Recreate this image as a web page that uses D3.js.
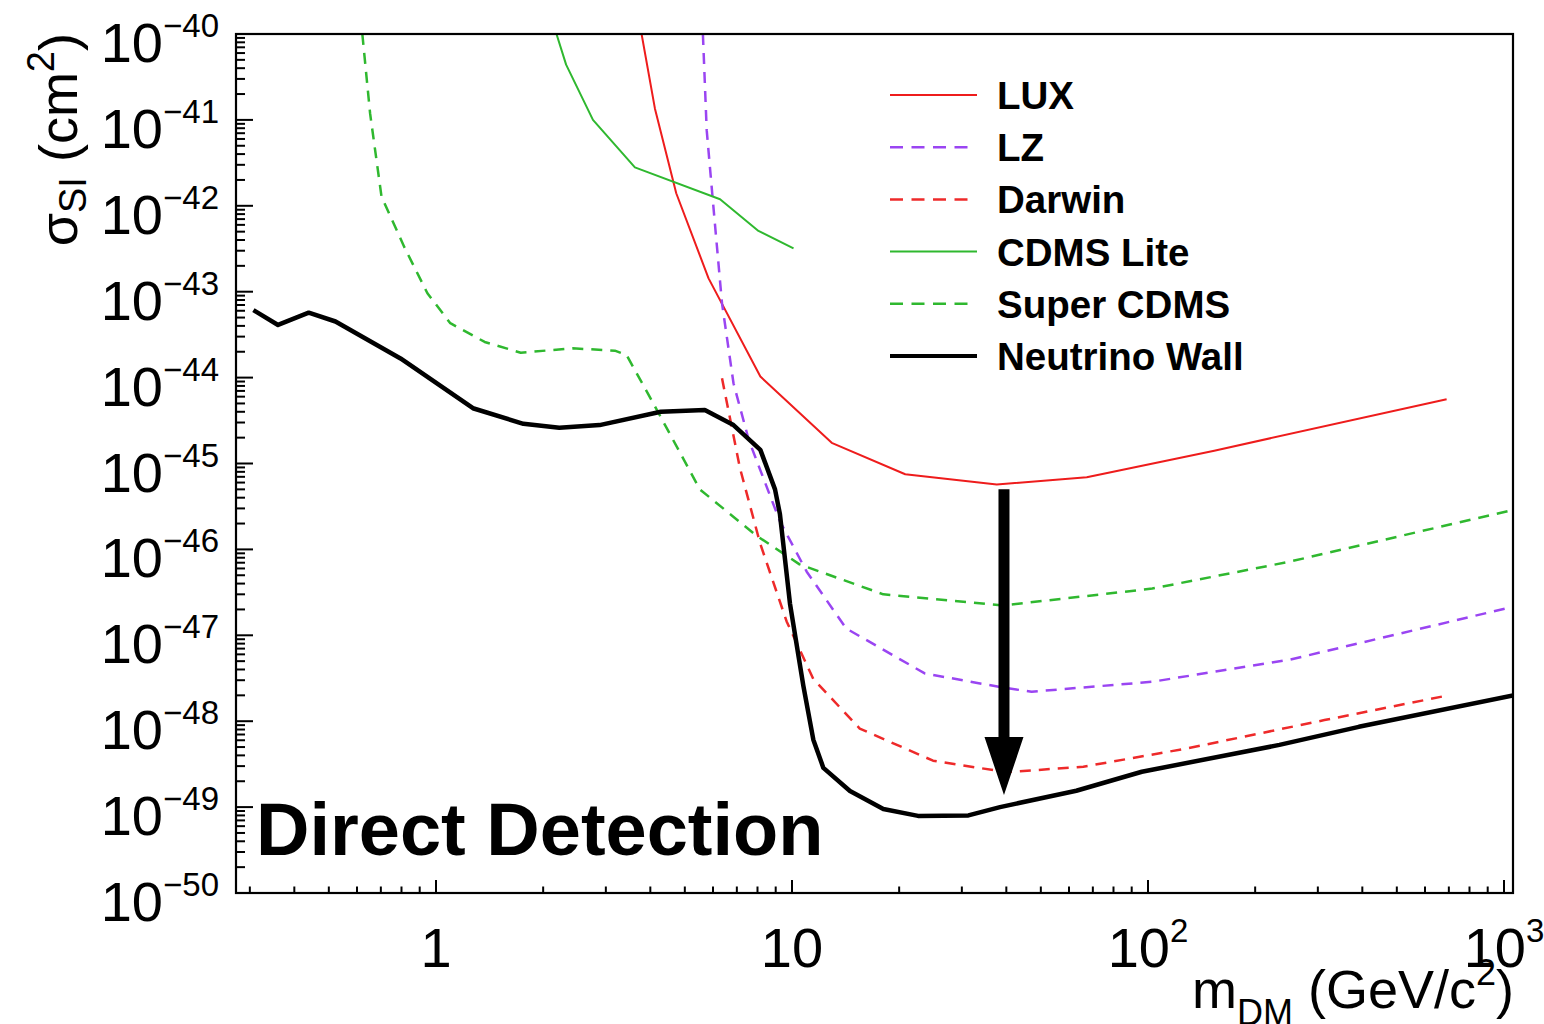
<!DOCTYPE html>
<html>
<head>
<meta charset="utf-8">
<script src="https://cdn.jsdelivr.net/npm/d3@7"></script>
<style>
  html, body { margin: 0; padding: 0; background: #fff; }
  svg { display: block; font-family: "Liberation Sans", Arial, Helvetica, sans-serif; }
</style>
</head>
<body>
<svg id="chart" width="1544" height="1024"></svg>
<script>
// ---------------- data ----------------
const luxMass   = [3.78, 4.12, 4.73, 5.83, 8.15, 12.93, 20.8, 37.6, 67.3, 153.5, 690];
const luxSigma  = [1.0e-40, 1.36e-41, 1.4e-42, 1.43e-43, 1.03e-44, 1.74e-45, 7.5e-46, 5.7e-46, 6.9e-46, 1.41e-45, 5.6e-45];

const lzMass    = [5.62, 5.76, 5.98, 6.36, 6.85, 7.56, 9.25, 11.0, 14.2, 23.6, 38.4, 47.1, 102.8, 250, 1060];
const lzSigma   = [1.0e-40, 7.6e-42, 1.28e-42, 7.3e-44, 8.6e-45, 1.88e-45, 2.12e-46, 5.5e-47, 1.2e-47, 3.6e-48, 2.5e-48, 2.2e-48, 2.88e-48, 5.2e-48, 2.15e-47];

const darwinMass  = [6.36, 7.14, 8.13, 9.66, 11.48, 15.5, 24.9, 40.0, 65.8, 128, 313, 698];
const darwinSigma = [9.8e-45, 8.9e-46, 1.19e-46, 1.45e-47, 3.1e-48, 8.2e-49, 3.47e-49, 2.55e-49, 2.95e-49, 4.8e-49, 1.03e-48, 2.0e-48];

const cdmsLiteMass  = [2.18, 2.32, 2.76, 3.62, 6.28, 8.05, 10.1];
const cdmsLiteSigma = [1.0e-40, 4.4e-41, 1.0e-41, 2.8e-42, 1.19e-42, 5.1e-43, 3.2e-43];

const superCdmsMass  = [0.621, 0.653, 0.703, 0.815, 0.946, 1.097, 1.37, 1.73, 2.42, 3.18, 3.43, 4.08, 5.51, 7.96, 10.5, 18.05, 39.2, 102.8, 250, 1060];
const superCdmsSigma = [1.0e-40, 1.19e-41, 1.28e-42, 3.3e-43, 9.6e-44, 4.3e-44, 2.6e-44, 1.95e-44, 2.19e-44, 2.06e-44, 1.83e-44, 5.0e-45, 5.0e-46, 1.44e-46, 6.7e-47, 3.0e-47, 2.23e-47, 3.5e-47, 7.2e-47, 2.88e-46];

const nuMass  = [0.307, 0.360, 0.439, 0.522, 0.795, 1.27, 1.76, 2.22, 2.88, 4.28, 5.69, 6.85, 8.15, 8.96, 9.25, 9.87, 10.76, 11.48, 12.25, 14.55, 18.05, 22.6, 31.3, 38.4, 62.9, 96.1, 234, 391, 1060];
const nuSigma = [6.1e-44, 4.1e-44, 5.7e-44, 4.5e-44, 1.67e-44, 4.4e-45, 2.9e-45, 2.6e-45, 2.8e-45, 4.0e-45, 4.2e-45, 2.8e-45, 1.44e-45, 5.0e-46, 2.57e-46, 2.34e-47, 2.6e-48, 6.1e-49, 2.86e-49, 1.54e-49, 9.5e-50, 7.9e-50, 8.0e-50, 1.0e-49, 1.55e-49, 2.58e-49, 5.3e-49, 8.6e-49, 2.0e-48];

const seriesNames = ["LUX", "LZ", "Darwin", "CDMS Lite", "Super CDMS", "Neutrino Wall"];

// axis tick labels
const xTickValues = [1, 10, 100, 1000];
const xTickBase   = ["1", "10", "10", "10"];
const xTickExp    = ["", "", "2", "3"];
const yTickExps   = [-40, -41, -42, -43, -44, -45, -46, -47, -48, -49, -50];

const xTitleMain = "m", xTitleSub = "DM", xTitleRest = " (GeV/c", xTitleSup = "2", xTitleEnd = ")";
const yTitleMain = "σ", yTitleSub = "SI", yTitleRest = " (cm", yTitleSup = "2", yTitleEnd = ")";
const annotationText = "Direct Detection";
// arrow annotation (mass, sigma top, sigma tip)
const arrowMass = 39.4, arrowTop = 5.0e-46, arrowTip = 1.38e-49;

// ---------------- layout ----------------
const L = 236, R = 1513, T = 34, B = 893;
const svg = d3.select("#chart");

const x = d3.scaleLog().domain([0.2743, 1060]).range([L, R]);
const y = d3.scaleLog().domain([1e-50, 1e-40]).range([B, T]);

const styles = {
  "LUX":           {color: "#ee1c1c", dash: null,   width: 2},
  "LZ":            {color: "#9a45f2", dash: "11,8", width: 2.5},
  "Darwin":        {color: "#ee2a2a", dash: "11,8", width: 2.5},
  "CDMS Lite":     {color: "#2fb82f", dash: null,   width: 2},
  "Super CDMS":    {color: "#2fb82f", dash: "11,8", width: 2.5},
  "Neutrino Wall": {color: "#000000", dash: null,   width: 4.5}
};
const seriesData = {
  "LUX": [luxMass, luxSigma],
  "LZ": [lzMass, lzSigma],
  "Darwin": [darwinMass, darwinSigma],
  "CDMS Lite": [cdmsLiteMass, cdmsLiteSigma],
  "Super CDMS": [superCdmsMass, superCdmsSigma],
  "Neutrino Wall": [nuMass, nuSigma]
};

svg.append("defs").append("clipPath").attr("id", "plotclip")
  .append("rect").attr("x", L).attr("y", T).attr("width", R - L).attr("height", B - T);

const line = d3.line().x(d => x(d[0])).y(d => y(d[1]));
const gCurves = svg.append("g").attr("clip-path", "url(#plotclip)");
seriesNames.forEach(name => {
  const [ms, ss] = seriesData[name];
  const pts = ms.map((m, i) => [m, ss[i]]);
  const st = styles[name];
  gCurves.append("path")
    .attr("d", line(pts))
    .attr("fill", "none")
    .attr("stroke", st.color)
    .attr("stroke-width", st.width)
    .attr("stroke-dasharray", st.dash)
    .attr("stroke-linejoin", "round");
});

// frame
svg.append("rect").attr("x", L).attr("y", T).attr("width", R - L).attr("height", B - T)
  .attr("fill", "none").attr("stroke", "#000").attr("stroke-width", 2.2);

// y ticks (inward on left)
const gy = svg.append("g");
for (let e = -50; e <= -40; e++) {
  gy.append("line").attr("x1", L).attr("x2", L + 17)
    .attr("y1", y(Math.pow(10, e))).attr("y2", y(Math.pow(10, e)))
    .attr("stroke", "#000").attr("stroke-width", 2);
  if (e < -40) {
    for (let k = 2; k <= 9; k++) {
      const v = k * Math.pow(10, e);
      gy.append("line").attr("x1", L).attr("x2", L + 9)
        .attr("y1", y(v)).attr("y2", y(v))
        .attr("stroke", "#000").attr("stroke-width", 2);
    }
  }
}
yTickExps.forEach(e => {
  const t = gy.append("text")
    .attr("x", 219).attr("y", y(Math.pow(10, e)) + 28)
    .attr("text-anchor", "end").attr("fill", "#000");
  t.append("tspan").attr("font-size", 56).text("10");
  t.append("tspan").attr("font-size", 33).attr("dy", -25).text("\u2212" + Math.abs(e));
});

// x ticks (inward on bottom)
const gx = svg.append("g");
const xd = x.domain();
for (let e = -1; e <= 3; e++) {
  for (let k = 1; k <= 9; k++) {
    const v = k * Math.pow(10, e);
    if (v < xd[0] || v > xd[1]) continue;
    const len = k === 1 ? 13 : 6.5;
    gx.append("line").attr("x1", x(v)).attr("x2", x(v))
      .attr("y1", B).attr("y2", B - len)
      .attr("stroke", "#000").attr("stroke-width", 2);
  }
}
xTickValues.forEach((v, i) => {
  const t = gx.append("text").attr("x", x(v)).attr("y", 967)
    .attr("text-anchor", "middle").attr("fill", "#000");
  t.append("tspan").attr("font-size", 56).text(xTickBase[i]);
  if (xTickExp[i]) t.append("tspan").attr("font-size", 33).attr("dy", -25).text(xTickExp[i]);
});

// x title
const xt = svg.append("text").attr("x", R + 1).attr("y", 1008).attr("text-anchor", "end").attr("fill", "#000");
xt.append("tspan").attr("font-size", 54).text(xTitleMain);
xt.append("tspan").attr("font-size", 36).attr("dy", 17).text(xTitleSub);
xt.append("tspan").attr("font-size", 54).attr("dy", -17).text(xTitleRest);
xt.append("tspan").attr("font-size", 36).attr("dy", -23).text(xTitleSup);
xt.append("tspan").attr("font-size", 54).attr("dy", 23).text(xTitleEnd);

// y title (rotated)
const yt = svg.append("text").attr("transform", "translate(77," + (T - 1) + ") rotate(-90)")
  .attr("text-anchor", "end").attr("fill", "#000");
yt.append("tspan").attr("font-size", 54).text(yTitleMain);
yt.append("tspan").attr("font-size", 38).attr("dy", 9).text(yTitleSub);
yt.append("tspan").attr("font-size", 54).attr("dy", -9).text(yTitleRest);
yt.append("tspan").attr("font-size", 38).attr("dy", -23).text(yTitleSup);
yt.append("tspan").attr("font-size", 54).attr("dy", 23).text(yTitleEnd);

// legend
const legY0 = 95, legDY = 52.2;
const gl = svg.append("g");
seriesNames.forEach((name, i) => {
  const st = styles[name];
  const yy = legY0 + i * legDY;
  gl.append("line").attr("x1", 890).attr("x2", st.dash ? 970 : 977)
    .attr("y1", yy).attr("y2", yy)
    .attr("stroke", st.color).attr("stroke-width", name === "Neutrino Wall" ? 4 : (st.dash ? 2.5 : 2))
    .attr("stroke-dasharray", st.dash ? "13,8.5" : null);
  gl.append("text").attr("x", 997).attr("y", yy + 14)
    .attr("font-size", 38.5).attr("font-weight", "bold").attr("fill", "#000")
    .text(name);
});

// annotation text
svg.append("text").attr("x", 256).attr("y", 855)
  .attr("font-size", 74).attr("font-weight", "bold").attr("fill", "#000")
  .text(annotationText);

// arrow
const ax = x(arrowMass), ay0 = y(arrowTop), ay1 = y(arrowTip);
const headLen = 58, headHalf = 19.5, shaftHalf = 5.5;
svg.append("path")
  .attr("d", `M${ax - shaftHalf},${ay0} L${ax + shaftHalf},${ay0} L${ax + shaftHalf},${ay1 - headLen} L${ax + headHalf},${ay1 - headLen} L${ax},${ay1} L${ax - headHalf},${ay1 - headLen} L${ax - shaftHalf},${ay1 - headLen} Z`)
  .attr("fill", "#000");
</script>
</body>
</html>
